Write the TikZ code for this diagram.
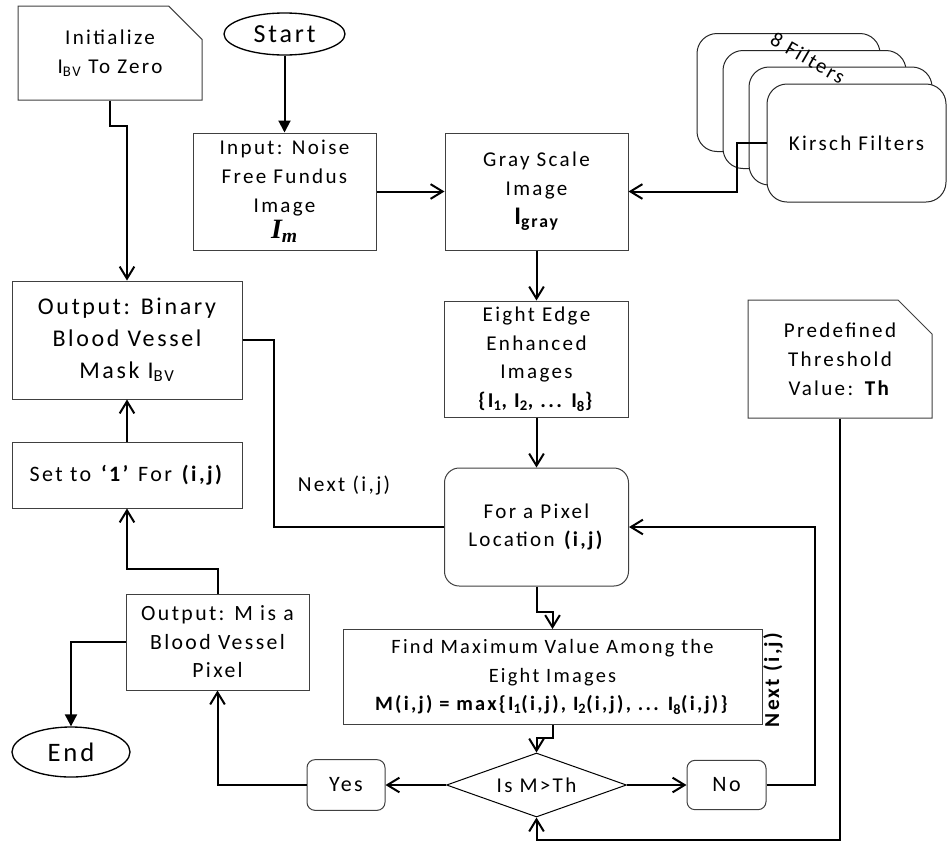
\documentclass[tikz,border=0pt]{standalone}
\usepackage{fontspec}
\setmainfont{Carlito}[LetterSpace=11]
\newfontfamily\timesf{Liberation Serif}
\usetikzlibrary{shapes.geometric,shapes.misc,arrows.meta}
\begin{document}
\begin{tikzpicture}[x=0.75pt,y=-0.75pt,
  base/.style={draw=black!75, line width=0.75pt, align=center, inner sep=0pt, fill=white, font=\fontsize{15.8}{21.6}\selectfont},
  box/.style={base, rectangle},
  rbox/.style={base, rectangle, rounded corners=11pt},
  note/.style={base, chamfered rectangle, chamfered rectangle corners=north east, chamfered rectangle xsep=13pt, chamfered rectangle ysep=12pt},
  term/.style={base, ellipse, draw=black, line width=1pt},
  kb/.style={draw=black!85, line width=0.75pt, rounded corners=15pt, fill=white, inner sep=0pt, minimum width=137.25pt, minimum height=88.5pt, font=\fontsize{15.8}{19}\selectfont},
  con/.style={line width=1.5pt, -{Straight Barb[length=9pt,width=11pt]}},
  plain/.style={line width=1.5pt},
  fcon/.style={line width=1.5pt, -{Triangle[length=9pt,width=9pt]}}
]
\path[use as bounding box] (0,0) rectangle (948,843);

% Kirsch filter stack
\node[kb] (k1) at (788.5,92.5) {};
\node[kb] (k2) at (814.5,109.5) {};
\node[kb] (k3) at (840.5,126) {};
\node[kb, minimum width=134.25pt] (k4) at (856.5,143) {Kirsch Filters};
\node[rotate=-30, font=\fontsize{15.5}{18}\selectfont] (kf) at (808,58) {8 Filters};

% nodes
\node[note, minimum width=138pt, minimum height=70.5pt] (init) at (110,53) {Initialize\\I\textsubscript{BV} To Zero};
\node[term, minimum width=90.75pt, minimum height=31.5pt, font=\fontsize{19.5}{19.5}\selectfont] (start) at (284.5,34) {Start};
\node[box, minimum width=137.25pt, minimum height=87.75pt] (input) at (284.5,191.5) {Input: Noise\\Free Fundus\\Image\\[-2pt]{\timesf\bfseries\itshape\fontsize{21}{21}\selectfont I\textsubscript{m}}};
\node[box, minimum width=137.25pt, minimum height=87.75pt] (gray) at (536.5,191.5) {Gray Scale\\Image\\{\bfseries\fontsize{19}{20}\selectfont I\textsubscript{gray}}};
\node[box, minimum width=138pt, minimum height=87pt] (eight) at (536.5,359) {Eight Edge\\Enhanced\\Images\\\textbf{\{I\textsubscript{1}, I\textsubscript{2}, ... I\textsubscript{8}\}}};
\node[rbox, minimum width=138pt, minimum height=88.5pt] (forp) at (536.5,527) {For a Pixel\\Location \textbf{(i,j)}};
\node[box, minimum width=314.25pt, minimum height=71.25pt, font=\fontsize{15.3}{21.4}\selectfont] (find) at (552.5,677) {Find Maximum Value Among the\\Eight Images\\\textbf{M(i,j) = max\{I\textsubscript{1}(i,j), I\textsubscript{2}(i,j), ... I\textsubscript{8}(i,j)\}}};
\node[base, diamond, draw=black, shape aspect=2.8, minimum width=135pt, minimum height=48pt] (dia) at (536.5,785) {Is M>Th};
\node[rbox, rounded corners=6pt, minimum width=58.5pt, minimum height=38pt, font=\fontsize{16.5}{19}\selectfont] (yes) at (346,785) {Yes};
\node[rbox, rounded corners=6pt, minimum width=59.25pt, minimum height=37pt, font=\fontsize{16.5}{19}\selectfont] (no) at (726.5,785) {No};
\node[box, minimum width=137.25pt, minimum height=72pt, font=\fontsize{16.3}{21.4}\selectfont] (outm) at (217.5,642) {Output: M is a\\Blood Vessel\\Pixel};
\node[box, minimum width=172.5pt, minimum height=49.5pt, font=\fontsize{16.5}{22}\selectfont] (setb) at (127,475) {Set to \textbf{‘1’} For \textbf{(i,j)}};
\node[box, minimum width=172.5pt, minimum height=88.5pt, font=\fontsize{18}{23.8}\selectfont] (binary) at (127,340) {Output: Binary\\Blood Vessel\\Mask I\textsubscript{BV}};
\node[term, minimum width=88.5pt, minimum height=37.5pt, font=\fontsize{20}{20}\selectfont] (end) at (71,752) {End};
\node[note, minimum width=138pt, minimum height=88.5pt, chamfered rectangle xsep=13.5pt] (thr) at (840,359) {Predefined\\Threshold\\Value: \textbf{Th}};

% labels
\node[font=\fontsize{16}{18}\selectfont] (nextl) at (344,486) {Next (i,j)};
\node[rotate=90, font=\fontsize{16}{18}\selectfont\bfseries] (nextr) at (773,680) {Next (i,j)};

\coordinate (bot) at (0,840);

% connectors
\draw[fcon] (start) -- (input);
\draw[con] (input) -- (gray);
\draw[con] (k4.west) -- ++(-30,0) |- (gray.east);
\draw[con] (gray) -- (eight);
\draw[con] (eight) -- (forp);
\draw[con] (forp.south) -- ++(0,25) -| (find.north);
\draw[con] (find.south) -- ++(0,13) -| (dia.north);
\draw[con] (dia.west) -- (yes.east);
\draw[con] (yes.west) -| (outm.south);
\draw[con] (outm.north) -- ++(0,-25) -| (setb.south);
\draw[con] (setb) -- (binary);
\draw[fcon] (outm.west) -| (end.north);
\draw[con] (init.south) -- ++(0,25) -| (binary.north);
\draw[plain] (binary.east) -- ++(31,0) |- (forp.west);
\draw[con] (dia.east) -- (no.west);
\draw[con] (no.east) -- ++(48,0) |- (forp.east);
\draw[con] (thr.south) -- (thr.south |- bot) -| (dia.south);
\end{tikzpicture}
\end{document}
